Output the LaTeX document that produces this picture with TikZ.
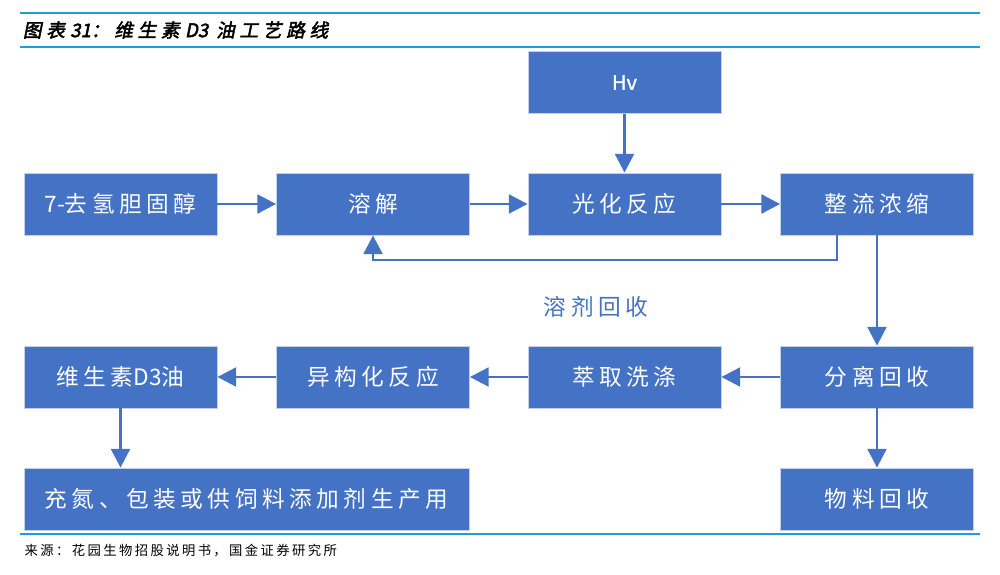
\documentclass[tikz,border=0pt]{standalone}
\usepackage{fontspec}
\setmainfont{Noto Sans CJK SC}
\newfontfamily\boxfont[LetterSpace=20]{Noto Sans CJK SC}
\newfontfamily\latfont{Noto Sans CJK SC}
\newfontfamily\latbold[FakeBold=1.2]{Noto Sans CJK SC}
\newfontfamily\titlefont[FakeSlant=0.2,FakeBold=2.5,LetterSpace=25]{Noto Sans CJK SC}
\newfontfamily\titlelat[FakeSlant=0.2,FakeBold=2.5]{Noto Sans CJK SC}
\newfontfamily\srcfont[LetterSpace=18]{Noto Sans CJK SC}
\usetikzlibrary{arrows.meta,calc}
\definecolor{boxblue}{HTML}{4472C4}
\definecolor{rulecol}{HTML}{1F9BDE}
\definecolor{edgecol}{HTML}{C5D0E6}
\tikzset{
  procbox/.style={fill=boxblue, draw=edgecol, line width=0.6pt,
    minimum width=144.75pt, minimum height=46.5pt, inner sep=0pt,
    text=white, font=\boxfont\fontsize{17}{20}\selectfont},
  flow/.style={draw=boxblue, line width=2.2pt, -{Triangle[length=14pt,width=14pt]}},
  rulel/.style={draw=rulecol, line width=1.5pt},
}
\begin{document}
\begin{tikzpicture}[x=0.75pt,y=-0.75pt]
\useasboundingbox (0,0) rectangle (1000,575);
% header and footer rules
\draw[rulel] (20,13) -- (980,13);
\draw[rulel] (20,47) -- (980,47);
\draw[rulel] (20,534) -- (980,534);
\node[anchor=west, inner sep=2pt, font=\titlefont\fontsize{14}{16}\selectfont] (title) at (20,30) {图表\hspace{4pt}{\titlelat 31}：维生素\hspace{4pt}{\titlelat D3}\hspace{6pt}油工艺路线};
\node[anchor=west, font=\srcfont\fontsize{10}{12}\selectfont] (src) at (20,551) {来源：花园生物招股说明书，国金证券研究所};
% boxes
\node[procbox, font=\latbold\fontsize{15}{18}\selectfont] (hv) at (624.5,82.5) {Hv};
\node[procbox] (qq) at (120.5,204) {{\latfont 7-}去氢胆固醇};
\node[procbox] (rj) at (373,204) {溶解};
\node[procbox] (gh) at (624.5,204) {光化反应};
\node[procbox] (zl) at (877,204) {整流浓缩};
\node[procbox] (d3) at (120.5,377) {维生素{\latfont D3}油};
\node[procbox] (yg) at (373,377) {异构化反应};
\node[procbox] (cq) at (624.5,377) {萃取洗涤};
\node[procbox] (fl) at (877,377) {分离回收};
\node[procbox, minimum width=333.75pt] (cd) at (246.5,499) {充氮、包装或供饲料添加剂生产用};
\node[procbox] (wl) at (877,499) {物料回收};
% label
\node[text=boxblue, font=\boxfont\fontsize{17}{20}\selectfont] (lbl) at (596,307) {溶剂回收};
% connectors
\draw[flow] (qq) -- (rj);
\draw[flow] (rj) -- (gh);
\draw[flow] (gh) -- (zl);
\draw[flow] (hv) -- (gh);
\coordinate (fb) at (837,235);
\draw[flow] (fb) -- ++(0,25) -| (rj.south);
\draw[flow] (zl) -- (fl);
\draw[flow] (fl) -- (cq);
\draw[flow] (cq) -- (yg);
\draw[flow] (yg) -- (d3);
\draw[flow] (d3) -- (d3 |- cd.north);
\draw[flow] (fl) -- (wl);
\end{tikzpicture}
\end{document}
